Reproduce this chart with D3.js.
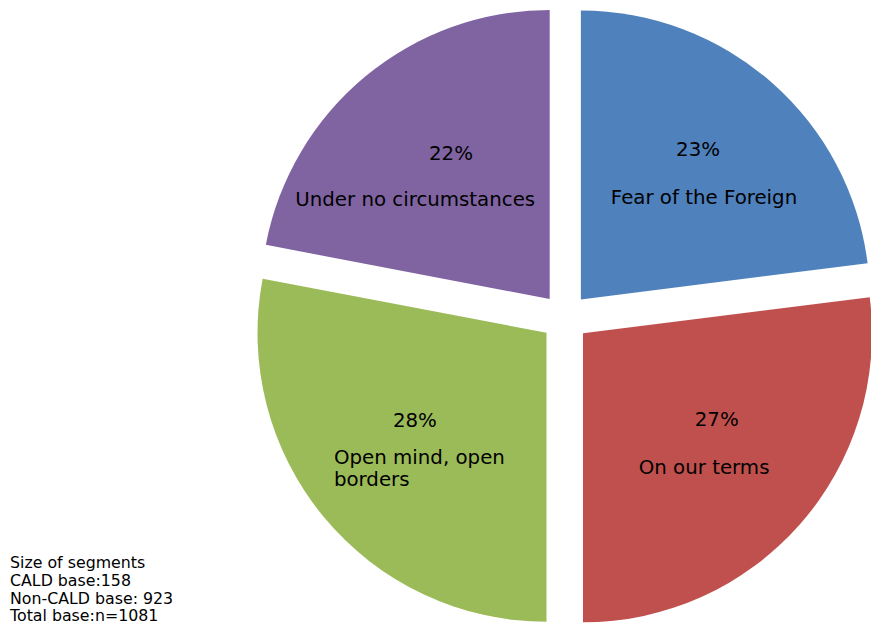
<!DOCTYPE html>
<html>
<head>
<meta charset="utf-8">
<script src="https://d3js.org/d3.v7.min.js"></script>
<style>
  html, body { margin: 0; padding: 0; background: #ffffff; }
  svg { display: block; }
  text { font-family: "DejaVu Sans", Verdana, sans-serif; fill: #000; }
</style>
</head>
<body>
<div id="chart"></div>
<script>
// Segment data
const segments = ["Fear of the Foreign", "On our terms", "Open mind, open borders", "Under no circumstances"];
const shares = [23, 27, 28, 22];
const colours = ["#4F81BD", "#C0504D", "#9BBB59", "#8064A2"];
const nameLines = [["Fear of the Foreign"], ["On our terms"], ["Open mind, open", "borders"], ["Under no circumstances"]];
const notes = ["Size of segments", "CALD base:158", "Non-CALD base: 923", "Total base:n=1081"];

const width = 871, height = 624;
const cx = 565, cy = 317.5;
const radius = 289;
const explode = 24;

// Label placement relative to each slice's label centroid: [pct dx, pct dy, name dx, name dy, anchor]
const labelLayout = [
  { pct: [2.5, -13.7], name: [8.5, 34.6], anchor: "middle" },
  { pct: [3.7, -22], name: [-9, 26], anchor: "middle" },
  { pct: [2, -16.3], name: [-79, 20.3], anchor: "start" },
  { pct: [11.8, -5.5], name: [-24, 40.5], anchor: "middle" }
];

const svg = d3.select("#chart").append("svg")
  .attr("width", width).attr("height", height);

const g = svg.append("g").attr("transform", `translate(${cx},${cy})`);

const pie = d3.pie().sort(null).value(d => d.value);
const arcs = pie(shares.map((v, i) => ({ value: v, i })));

const arc = d3.arc().innerRadius(0).outerRadius(radius);
const labelArc = d3.arc().innerRadius(radius * 0.6).outerRadius(radius * 0.6);

function offset(a) {
  const mid = (a.startAngle + a.endAngle) / 2;
  return [Math.sin(mid) * explode, -Math.cos(mid) * explode];
}

const slices = g.selectAll("g.slice").data(arcs).enter().append("g")
  .attr("class", "slice")
  .attr("transform", d => { const o = offset(d); return `translate(${o[0]},${o[1]})`; });

slices.append("path")
  .attr("d", arc)
  .attr("fill", (d, i) => colours[i]);

slices.each(function(d, i) {
  const c = labelArc.centroid(d);
  const L = labelLayout[i];
  const sel = d3.select(this);
  sel.append("text")
    .attr("x", c[0] + L.pct[0]).attr("y", c[1] + L.pct[1])
    .attr("text-anchor", "middle")
    .style("font-size", "19.8px")
    .text(d3.format(".0f")(d.data.value) + "%");
  const t = sel.append("text")
    .attr("x", c[0] + L.name[0]).attr("y", c[1] + L.name[1])
    .attr("text-anchor", L.anchor)
    .style("font-size", "19.8px");
  nameLines[i].forEach((line, k) => {
    t.append("tspan")
      .attr("x", c[0] + L.name[0])
      .attr("dy", k === 0 ? 0 : 22.7)
      .text(line);
  });
});

// Base sizes note
svg.append("text")
  .attr("x", 10).attr("y", 568.3)
  .style("font-size", "15.8px")
  .selectAll("tspan").data(notes).enter().append("tspan")
  .attr("x", 10)
  .attr("dy", (d, i) => i === 0 ? 0 : 17.6)
  .text(d => d);
</script>
</body>
</html>
